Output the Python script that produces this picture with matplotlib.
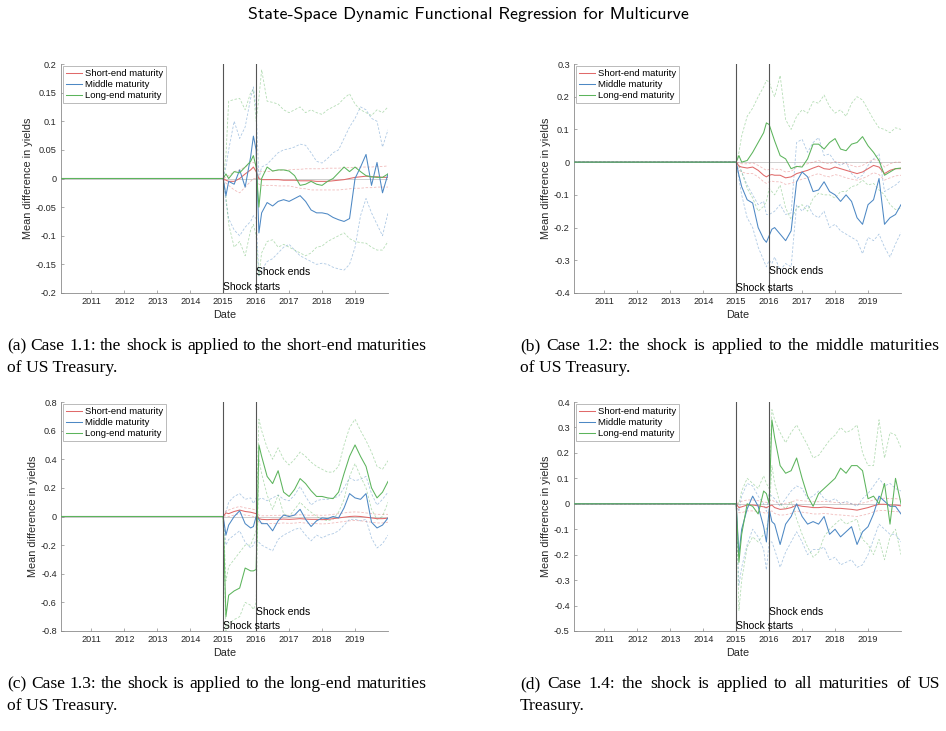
import matplotlib.pyplot as plt
import numpy as np

plt.rcParams['font.family'] = ['Liberation Sans', 'DejaVu Sans']
plt.rcParams['axes.unicode_minus'] = False

# months after Dec 2014 (shock runs from 2015 to 2016), series are zero before that
months = [0, 1, 2, 4, 6, 8, 10, 11, 12, 13, 14, 16, 18, 20, 22, 24, 26, 28, 30, 32, 34,
          36, 38, 40, 42, 44, 46, 48, 50, 52, 54, 56, 58, 60]
start_year = 2010.08
year_ticks = [2011, 2012, 2013, 2014, 2015, 2016, 2017, 2018, 2019]
labels = ['Short-end maturity', 'Middle maturity', 'Long-end maturity']

# (a) shock on short-end maturities
a_red = [0, -0.003, -0.005, -0.005, 0.0, 0.008, 0.015, 0.02, 0.012, 0.0, -0.002, -0.002, -0.002, -0.002, -0.003, -0.003, -0.003, -0.004, -0.004, -0.004, -0.005, -0.005, -0.005, -0.004, -0.003, -0.002, 0.0, 0.002, 0.003, 0.004, 0.003, 0.003, 0.002, 0.002]
a_red_hi = [0, 0.002, 0.005, 0.012, 0.015, 0.02, 0.027, 0.028, 0.025, 0.012, 0.012, 0.012, 0.013, 0.014, 0.015, 0.015, 0.016, 0.016, 0.017, 0.017, 0.017, 0.017, 0.018, 0.018, 0.018, 0.019, 0.019, 0.019, 0.02, 0.02, 0.02, 0.021, 0.021, 0.022]
a_red_lo = [0, -0.008, -0.012, -0.02, -0.025, -0.015, -0.005, 0.0, 0.0, -0.01, -0.012, -0.012, -0.012, -0.013, -0.013, -0.013, -0.015, -0.017, -0.018, -0.02, -0.02, -0.02, -0.02, -0.02, -0.02, -0.019, -0.018, -0.017, -0.017, -0.016, -0.016, -0.015, -0.015, -0.015]
a_blue = [0, -0.03, -0.005, -0.01, 0.015, -0.015, 0.038, 0.074, 0.05, -0.095, -0.06, -0.042, -0.048, -0.04, -0.037, -0.04, -0.035, -0.03, -0.04, -0.055, -0.06, -0.06, -0.062, -0.068, -0.072, -0.075, -0.07, 0.0, 0.02, 0.042, -0.012, 0.028, -0.025, 0.008]
a_blue_hi = [0, 0.02, 0.05, 0.1, 0.07, 0.09, 0.14, 0.16, 0.12, 0.0, 0.02, 0.025, 0.035, 0.045, 0.05, 0.052, 0.055, 0.06, 0.058, 0.045, 0.03, 0.027, 0.035, 0.045, 0.05, 0.07, 0.09, 0.105, 0.125, 0.12, 0.105, 0.1, 0.055, 0.085]
a_blue_lo = [0, -0.04, -0.07, -0.09, -0.1, -0.085, -0.075, -0.065, -0.07, -0.17, -0.16, -0.145, -0.14, -0.13, -0.12, -0.115, -0.125, -0.135, -0.14, -0.145, -0.15, -0.148, -0.15, -0.155, -0.158, -0.16, -0.15, -0.12, -0.065, -0.035, -0.06, -0.08, -0.1, -0.06]
a_green = [0, 0.008, 0.0, 0.012, 0.01, 0.02, 0.03, 0.04, 0.02, -0.05, 0.0, 0.02, 0.013, 0.015, 0.015, 0.013, 0.005, -0.012, -0.01, -0.005, -0.01, -0.012, -0.005, 0.0, 0.01, 0.02, 0.012, 0.02, 0.012, 0.005, 0.003, 0.002, 0.002, 0.008]
a_green_hi = [0, 0.04, 0.135, 0.138, 0.14, 0.12, 0.15, 0.155, 0.1, 0.14, 0.19, 0.135, 0.133, 0.13, 0.12, 0.115, 0.12, 0.125, 0.115, 0.12, 0.115, 0.112, 0.12, 0.125, 0.13, 0.14, 0.148, 0.13, 0.12, 0.115, 0.11, 0.12, 0.115, 0.125]
a_green_lo = [0, -0.03, -0.08, -0.12, -0.11, -0.135, -0.09, -0.08, -0.1, -0.17, -0.13, -0.11, -0.107, -0.12, -0.115, -0.12, -0.125, -0.13, -0.135, -0.13, -0.12, -0.118, -0.11, -0.105, -0.1, -0.095, -0.105, -0.11, -0.112, -0.113, -0.12, -0.125, -0.125, -0.11]

# (b) shock on middle maturities
b_red = [0, -0.012, -0.015, -0.018, -0.015, -0.025, -0.04, -0.045, -0.04, -0.038, -0.04, -0.04, -0.048, -0.045, -0.035, -0.03, -0.025, -0.018, -0.012, -0.02, -0.022, -0.015, -0.02, -0.025, -0.03, -0.035, -0.03, -0.02, -0.01, -0.015, -0.035, -0.025, -0.02, -0.02]
b_red_hi = [0, -0.002, -0.005, -0.005, -0.002, -0.01, -0.02, -0.025, -0.022, -0.02, -0.022, -0.022, -0.03, -0.028, -0.015, -0.01, -0.005, 0.0, 0.005, -0.002, -0.005, 0.002, -0.002, -0.005, -0.01, -0.015, -0.01, 0.0, 0.008, 0.005, -0.015, -0.005, 0.0, 0.0]
b_red_lo = [0, -0.025, -0.03, -0.035, -0.035, -0.045, -0.06, -0.065, -0.06, -0.058, -0.06, -0.06, -0.068, -0.065, -0.058, -0.052, -0.048, -0.04, -0.035, -0.042, -0.045, -0.038, -0.042, -0.048, -0.052, -0.055, -0.05, -0.042, -0.032, -0.038, -0.055, -0.048, -0.042, -0.04]
b_blue = [0, -0.04, -0.075, -0.115, -0.125, -0.2, -0.235, -0.245, -0.225, -0.205, -0.2, -0.22, -0.24, -0.21, -0.06, -0.03, -0.045, -0.09, -0.085, -0.06, -0.09, -0.1, -0.12, -0.1, -0.12, -0.17, -0.19, -0.13, -0.115, -0.05, -0.19, -0.17, -0.16, -0.13]
b_blue_hi = [0, -0.01, -0.03, -0.07, -0.1, -0.13, -0.12, -0.16, -0.16, -0.155, -0.15, -0.13, -0.16, -0.155, 0.06, 0.07, 0.03, 0.06, 0.075, 0.02, 0.025, 0.0, -0.01, 0.0, -0.035, -0.05, -0.04, -0.01, 0.01, 0.025, -0.09, -0.08, -0.07, -0.055]
b_blue_lo = [0, -0.05, -0.1, -0.17, -0.2, -0.26, -0.3, -0.32, -0.3, -0.31, -0.29, -0.33, -0.31, -0.32, -0.13, -0.15, -0.13, -0.16, -0.17, -0.15, -0.2, -0.19, -0.21, -0.22, -0.23, -0.24, -0.28, -0.23, -0.24, -0.22, -0.26, -0.29, -0.25, -0.215]
b_green = [0, 0.02, 0.0, 0.005, 0.03, 0.06, 0.09, 0.12, 0.115, 0.09, 0.065, 0.02, 0.01, -0.02, -0.013, -0.015, 0.01, 0.055, 0.055, 0.04, 0.06, 0.072, 0.04, 0.035, 0.055, 0.06, 0.078, 0.05, 0.03, 0.005, -0.04, -0.03, -0.02, -0.018]
b_green_hi = [0, 0.03, 0.08, 0.14, 0.165, 0.2, 0.23, 0.25, 0.245, 0.22, 0.2, 0.265, 0.13, 0.1, 0.14, 0.16, 0.15, 0.185, 0.18, 0.205, 0.17, 0.15, 0.16, 0.14, 0.18, 0.2, 0.19, 0.16, 0.13, 0.105, 0.1, 0.09, 0.105, 0.1]
b_green_lo = [0, -0.01, -0.03, -0.08, -0.11, -0.15, -0.135, -0.12, -0.08, -0.09, -0.1, -0.07, -0.14, -0.175, -0.14, -0.13, -0.15, -0.11, -0.095, -0.1, -0.1, -0.11, -0.09, -0.09, -0.075, -0.07, -0.055, -0.07, -0.065, -0.085, -0.1, -0.13, -0.145, -0.14]

# (c) shock on long-end maturities
c_red = [0, 0.025, 0.02, 0.035, 0.045, 0.035, 0.03, 0.025, 0.02, -0.015, -0.02, -0.022, -0.02, -0.02, -0.018, -0.02, -0.018, -0.015, -0.018, -0.02, -0.02, -0.022, -0.02, -0.015, -0.01, -0.005, 0.0, 0.002, 0.0, -0.005, -0.01, -0.015, -0.015, -0.012]
c_red_hi = [0, 0.04, 0.045, 0.06, 0.07, 0.06, 0.055, 0.05, 0.045, 0.01, 0.005, 0.005, 0.008, 0.008, 0.01, 0.008, 0.01, 0.012, 0.01, 0.008, 0.01, 0.008, 0.01, 0.015, 0.02, 0.025, 0.03, 0.032, 0.03, 0.025, 0.02, 0.015, 0.015, 0.015]
c_red_lo = [0, 0.005, 0.0, 0.01, 0.02, 0.01, 0.005, 0.0, -0.005, -0.04, -0.045, -0.05, -0.048, -0.048, -0.045, -0.048, -0.046, -0.042, -0.046, -0.048, -0.05, -0.052, -0.05, -0.045, -0.04, -0.035, -0.03, -0.028, -0.03, -0.035, -0.04, -0.045, -0.045, -0.04]
c_blue = [0, -0.13, -0.06, 0.0, 0.04, -0.05, -0.08, -0.07, 0.0, -0.02, -0.05, -0.05, -0.1, -0.03, 0.01, 0.0, 0.01, 0.05, -0.02, -0.07, -0.03, -0.01, -0.015, 0.0, -0.01, 0.06, 0.16, 0.13, 0.12, 0.16, -0.04, -0.08, -0.06, -0.01]
c_blue_hi = [0, 0.03, 0.1, 0.14, 0.16, 0.12, 0.13, 0.09, 0.13, 0.12, 0.13, 0.11, 0.13, 0.15, 0.12, 0.11, 0.15, 0.21, 0.14, 0.08, 0.11, 0.12, 0.12, 0.13, 0.14, 0.2, 0.27, 0.25, 0.26, 0.28, 0.16, 0.08, 0.12, 0.17]
c_blue_lo = [0, -0.2, -0.16, -0.13, -0.1, -0.18, -0.22, -0.2, -0.16, -0.18, -0.2, -0.22, -0.24, -0.16, -0.13, -0.11, -0.09, -0.08, -0.13, -0.17, -0.13, -0.15, -0.13, -0.12, -0.1, -0.06, -0.02, -0.02, -0.03, -0.02, -0.15, -0.22, -0.19, -0.13]
c_green = [0, -0.7, -0.55, -0.52, -0.5, -0.36, -0.38, -0.38, -0.37, 0.5, 0.42, 0.28, 0.23, 0.32, 0.17, 0.14, 0.19, 0.265, 0.23, 0.18, 0.14, 0.14, 0.13, 0.125, 0.17, 0.3, 0.42, 0.5, 0.42, 0.35, 0.2, 0.13, 0.17, 0.245]
c_green_hi = [0, -0.45, -0.35, -0.3, -0.25, -0.2, -0.2, -0.15, -0.1, 0.68, 0.6, 0.48, 0.4, 0.48, 0.4, 0.36, 0.4, 0.45, 0.42, 0.38, 0.35, 0.33, 0.31, 0.31, 0.35, 0.5, 0.62, 0.68, 0.6, 0.53, 0.45, 0.35, 0.33, 0.39]
c_green_lo = [0, -0.8, -0.75, -0.72, -0.7, -0.6, -0.62, -0.65, -0.6, 0.4, 0.3, 0.15, 0.05, 0.15, 0.02, 0.0, 0.05, 0.1, 0.06, 0.03, 0.0, -0.02, -0.03, -0.02, 0.03, 0.12, 0.28, 0.37, 0.28, 0.2, 0.05, -0.02, 0.0, 0.1]

# (d) shock on all maturities
d_red = [0, -0.015, -0.012, -0.005, -0.005, -0.008, -0.012, -0.015, -0.01, -0.005, -0.015, -0.022, -0.02, -0.015, -0.005, -0.01, -0.012, -0.015, -0.015, -0.013, -0.015, -0.018, -0.018, -0.02, -0.022, -0.025, -0.02, -0.015, -0.008, -0.002, -0.002, -0.005, -0.005, -0.008]
d_red_hi = [0, 0.005, 0.01, 0.015, 0.015, 0.012, 0.008, 0.005, 0.01, 0.015, 0.008, 0.0, 0.002, 0.006, 0.015, 0.012, 0.01, 0.008, 0.008, 0.01, 0.008, 0.005, 0.005, 0.003, 0.0, -0.002, 0.003, 0.008, 0.015, 0.02, 0.022, 0.02, 0.02, 0.018]
d_red_lo = [0, -0.035, -0.035, -0.028, -0.028, -0.03, -0.035, -0.038, -0.032, -0.028, -0.038, -0.045, -0.043, -0.038, -0.028, -0.033, -0.036, -0.04, -0.04, -0.038, -0.04, -0.043, -0.044, -0.046, -0.048, -0.05, -0.045, -0.04, -0.032, -0.026, -0.026, -0.03, -0.03, -0.033]
d_blue = [0, -0.2, -0.1, -0.02, 0.03, -0.01, -0.09, -0.15, -0.02, -0.07, -0.08, -0.16, -0.08, -0.05, 0.0, -0.05, -0.08, -0.07, -0.08, -0.05, -0.12, -0.1, -0.13, -0.11, -0.09, -0.16, -0.11, -0.09, -0.04, 0.03, 0.01, -0.01, -0.01, -0.04]
d_blue_hi = [0, -0.03, 0.03, 0.08, 0.07, 0.03, 0.0, -0.03, 0.04, 0.03, 0.02, -0.01, 0.02, 0.05, 0.07, 0.06, 0.02, 0.03, 0.05, 0.02, 0.01, 0.02, 0.0, 0.01, 0.0, -0.01, 0.02, 0.04, 0.07, 0.1, 0.07, 0.08, 0.06, 0.05]
d_blue_lo = [0, -0.32, -0.25, -0.16, -0.1, -0.13, -0.18, -0.26, -0.15, -0.15, -0.18, -0.25, -0.19, -0.15, -0.11, -0.15, -0.2, -0.18, -0.18, -0.17, -0.22, -0.21, -0.24, -0.23, -0.22, -0.25, -0.24, -0.2, -0.14, -0.08, -0.1, -0.12, -0.12, -0.15]
d_green = [0, -0.23, -0.12, 0.0, -0.01, -0.04, 0.05, 0.04, 0.0, 0.33, 0.26, 0.15, 0.12, 0.13, 0.18, 0.1, 0.03, -0.01, 0.04, 0.06, 0.08, 0.1, 0.14, 0.12, 0.15, 0.15, 0.13, 0.02, 0.03, 0.0, 0.08, -0.08, 0.1, 0.0]
d_green_hi = [0, 0.0, 0.05, 0.1, 0.08, 0.06, 0.11, 0.08, 0.06, 0.37, 0.33, 0.28, 0.24, 0.28, 0.31, 0.27, 0.23, 0.18, 0.19, 0.22, 0.25, 0.27, 0.3, 0.28, 0.29, 0.31, 0.2, 0.15, 0.15, 0.33, 0.18, 0.28, 0.27, 0.22]
d_green_lo = [0, -0.42, -0.3, -0.17, -0.13, -0.15, -0.12, -0.1, -0.05, 0.15, 0.08, 0.0, -0.02, 0.01, -0.06, -0.12, -0.17, -0.21, -0.19, -0.13, -0.1, -0.08, -0.06, -0.08, -0.07, -0.06, -0.14, -0.16, -0.2, -0.14, -0.22, -0.13, -0.1, -0.2]

captions = [
    ('(a) Case 1.1: the shock is applied to the short-end maturities', 'of US Treasury.'),
    ('(b) Case 1.2: the shock is applied to the middle maturities', 'of US Treasury.'),
    ('(c) Case 1.3: the shock is applied to the long-end maturities', 'of US Treasury.'),
    ('(d) Case 1.4: the shock is applied to all maturities of US', 'Treasury.'),
]

RED, BLUE, GREEN = '#e06a6a', '#4d88c4', '#5cb45c'
t = 2015 + np.array(months) / 12.0
xs = np.r_[start_year, t]


def panel(ax, series, ylim, ystep, starts_y, ends_y):
    ax.axhline(0, color='#c8c8c8', lw=0.6, zorder=1)
    for (mean, lo, hi), col in zip(series, [RED, BLUE, GREEN]):
        for band in (lo, hi):
            ax.plot(xs, np.r_[0, band], ls=(0, (3, 2)), color=col, lw=0.6, alpha=0.45, zorder=2)
    hs = []
    for (mean, lo, hi), col, lab in zip(series, [RED, BLUE, GREEN], labels):
        h, = ax.plot(xs, np.r_[0, mean], color=col, lw=0.75, zorder=3, label=lab)
        hs.append(h)
    ax.axvline(2015, color='#555555', lw=0.8, zorder=4)
    ax.axvline(2016, color='#555555', lw=0.8, zorder=4)
    ax.text(2015, starts_y, 'Shock starts', fontsize=7.5, va='center', ha='left', zorder=5)
    ax.text(2016, ends_y, 'Shock ends', fontsize=7.5, va='center', ha='left', zorder=5)
    ax.set_xlim(start_year, 2020.0)
    ax.set_ylim(*ylim)
    yt = np.round(np.arange(ylim[0], ylim[1] + ystep / 2, ystep), 3)
    ax.set_yticks(yt)
    ax.set_yticklabels(['%g' % (v + 0.0) for v in yt])
    ax.set_xticks(year_ticks)
    ax.set_xticklabels([str(y) for y in year_ticks])
    for s in ['top', 'right']:
        ax.spines[s].set_visible(False)
    for s in ['left', 'bottom']:
        ax.spines[s].set_color('#8a8a8a')
        ax.spines[s].set_linewidth(0.6)
    ax.tick_params(direction='in', length=2.5, width=0.5, colors='#8a8a8a',
                   labelcolor='#262626', labelsize=6.6, pad=3)
    ax.set_xlabel('Date', fontsize=7.8, labelpad=2.5, color='#262626')
    ax.set_ylabel('Mean difference in yields', fontsize=7.8, labelpad=2, color='#262626')
    leg = ax.legend(handles=hs, loc='upper left', fontsize=6.8, fancybox=False,
                    edgecolor='#b0b0b0', framealpha=1, borderpad=0.3, labelspacing=0.2,
                    handlelength=1.7, handletextpad=0.3, borderaxespad=0.25)
    leg.get_frame().set_linewidth(0.6)


fig = plt.figure(figsize=(9.46, 7.31), dpi=100)
W, H = 946.0, 731.0
boxes = [(61, 64), (574, 64), (61, 402), (574, 402)]
axes = [fig.add_axes([x / W, 1 - (y + 229) / H, 327 / W, 229 / H]) for x, y in boxes]

panel(axes[0], [(a_red, a_red_lo, a_red_hi), (a_blue, a_blue_lo, a_blue_hi), (a_green, a_green_lo, a_green_hi)],
      (-0.2, 0.2), 0.05, -0.19, -0.163)
panel(axes[1], [(b_red, b_red_lo, b_red_hi), (b_blue, b_blue_lo, b_blue_hi), (b_green, b_green_lo, b_green_hi)],
      (-0.4, 0.3), 0.1, -0.385, -0.332)
panel(axes[2], [(c_red, c_red_lo, c_red_hi), (c_blue, c_blue_lo, c_blue_hi), (c_green, c_green_lo, c_green_hi)],
      (-0.8, 0.8), 0.2, -0.765, -0.665)
panel(axes[3], [(d_red, d_red_lo, d_red_hi), (d_blue, d_blue_lo, d_blue_hi), (d_green, d_green_lo, d_green_hi)],
      (-0.5, 0.4), 0.1, -0.48, -0.427)

# captions: first line justified to the column width, like the LaTeX source
renderer = fig.canvas.get_renderer()
cap_style = dict(family='Liberation Serif', fontsize=12.6, va='baseline', ha='left')
cap_pos = [(7, 350), (520, 350), (7, 688), (520, 688)]
col_width = 420
for (x0, y0), (line1, line2) in zip(cap_pos, captions):
    words = line1.split(' ')
    objs = [fig.text(0, 0, w, **cap_style) for w in words]
    widths = [o.get_window_extent(renderer).width for o in objs]
    gap = (col_width - sum(widths)) / (len(words) - 1)
    x = x0
    for o, w in zip(objs, widths):
        o.set_position((x / W, 1 - y0 / H))
        x += w + gap
    fig.text(x0 / W, 1 - (y0 + 22) / H, line2, **cap_style)

fig.text(468 / W, 1 - 15 / H, 'State-Space Dynamic Functional Regression for Multicurve',
         family='cmss10', fontsize=12.9, ha='center', va='center')

fig.savefig('out.png', dpi=100)
